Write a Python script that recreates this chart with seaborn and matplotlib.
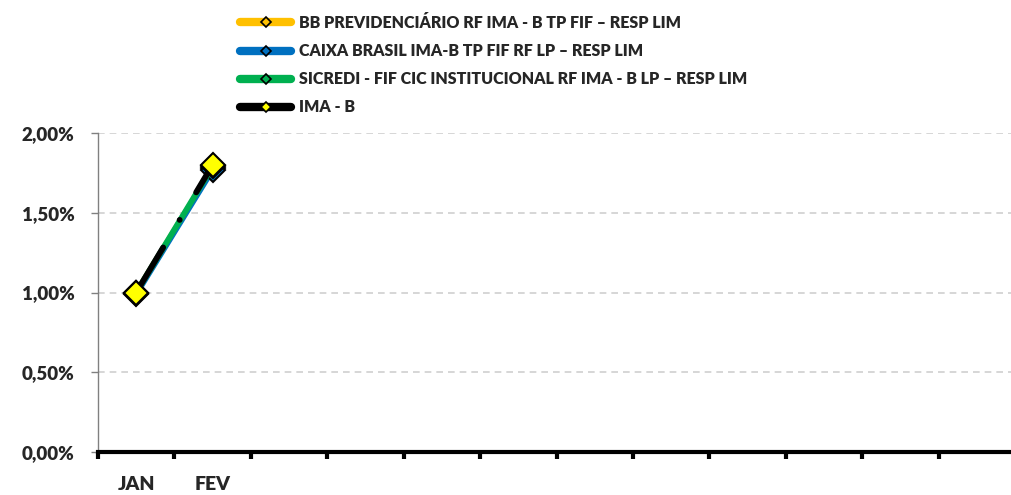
import numpy as np
import pandas as pd
import matplotlib
matplotlib.use("Agg")
import matplotlib.pyplot as plt
from matplotlib.lines import Line2D
from matplotlib.ticker import FuncFormatter, FixedLocator
import seaborn as sns

# data
months = ['JAN', 'FEV', '', '', '', '', '', '', '', '', '', '']
series_names = ['BB PREVIDENCIÁRIO RF IMA - B TP FIF – RESP LIM',
                'CAIXA BRASIL IMA-B TP FIF RF LP – RESP LIM',
                'SICREDI - FIF CIC INSTITUCIONAL RF IMA - B LP – RESP LIM',
                'IMA - B']
bb_vals = [1.00, 1.78]
caixa_vals = [0.99, 1.77]
sicredi_vals = [1.00, 1.79]
imab_vals = [1.00, 1.80]
colors = ['#FFC000', '#0070C0', '#00B050', '#000000']
marker_fill = ['#FFC000', '#0070C0', '#00B050', '#FFFF00']

sns.set_style("white")
plt.rcParams['font.family'] = ['Lato', 'DejaVu Sans']
plt.rcParams['font.weight'] = 'heavy'

fig = plt.figure(figsize=(10.11, 4.95), dpi=100)
ax = fig.add_axes([98/1011, 1-452/495, (1015-98)/1011, (452-133)/495])

all_vals = [bb_vals, caixa_vals, sicredi_vals, imab_vals]
for i, vals in enumerate(all_vals):
    df = pd.DataFrame({'x': np.arange(len(vals)), 'y': vals})
    sns.lineplot(data=df, x='x', y='y', ax=ax, color=colors[i], linewidth=4.2,
                 marker='D', markersize=12, markerfacecolor=marker_fill[i],
                 markeredgecolor='black', markeredgewidth=1.5, zorder=3+i)
    ln = ax.lines[-1]
    ln.set_solid_capstyle('round')
    if i == 3:
        ln.set_dashes((9, 5.5, 0.01, 5.5))
        ln.set_dash_capstyle('round')

ax.set_xlim(-0.5, 11.5)
ax.set_ylim(0, 2.0)
ax.set_yticks([0, 0.5, 1.0, 1.5, 2.0])
ax.yaxis.set_major_formatter(FuncFormatter(lambda v, p: ('%.2f%%' % v).replace('.', ',')))
ax.grid(axis='y', color='#D0D0D0', linestyle=(0, (4, 3)), linewidth=1.2)
ax.set_xticks(np.arange(12))
ax.set_xticklabels(months)
ax.xaxis.set_minor_locator(FixedLocator(np.arange(-0.5, 12, 1)))
ax.tick_params(axis='x', which='major', length=0, pad=17, labelsize=14, bottom=True)
ax.tick_params(axis='x', which='minor', length=5, width=3, color='black', direction='out', bottom=True)
ax.tick_params(axis='y', length=5, width=1, color='#808080', pad=12, labelsize=13.5, left=True)
for lab in ax.get_xticklabels() + ax.get_yticklabels():
    lab.set_fontweight('heavy')

for s in ['top', 'right']:
    ax.spines[s].set_visible(False)
ax.spines['left'].set_color('#808080')
ax.spines['left'].set_linewidth(1)
ax.spines['bottom'].set_color('black')
ax.spines['bottom'].set_linewidth(3)
ax.set_xlabel('')
ax.set_ylabel('')

handles = [Line2D([0], [0], color=colors[i], linewidth=6, solid_capstyle='round',
                  marker='D', markersize=5, markerfacecolor=marker_fill[i],
                  markeredgecolor='black', markeredgewidth=1.2) for i in range(4)]
fig.legend(handles, series_names, loc='upper left', bbox_to_anchor=(232/1011, 1-7/495),
           frameon=False, handlelength=3.2, handletextpad=0.5, labelspacing=0.76,
           borderpad=0, prop={'size': 11.5, 'weight': 'heavy'})

fig.savefig('out.png', dpi=100)
